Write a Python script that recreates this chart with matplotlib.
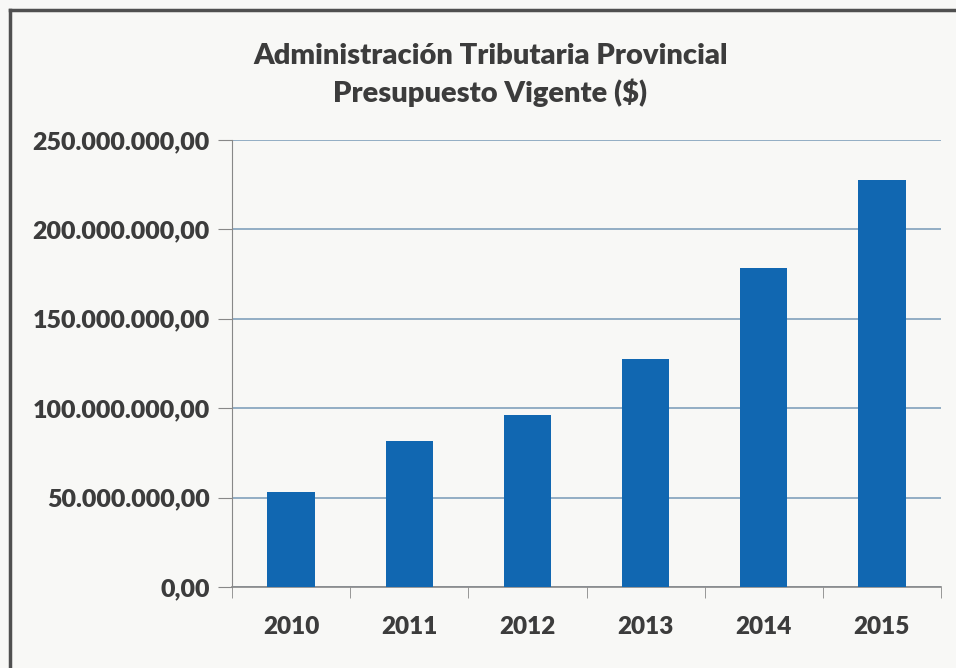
import matplotlib
matplotlib.use("Agg")
import matplotlib.pyplot as plt
from matplotlib.lines import Line2D
from matplotlib.ticker import FuncFormatter, FixedLocator

years = ["2010", "2011", "2012", "2013", "2014", "2015"]
budget = [53_000_000, 81_500_000, 96_000_000, 127_500_000, 178_500_000, 227_500_000]
y_ticks = [0, 50_000_000, 100_000_000, 150_000_000, 200_000_000, 250_000_000]

TEXT = "#3c3c3c"
BAR = "#1167b1"
GRID = "#93adc4"
BG = "#f8f8f6"

plt.rcParams["font.family"] = ["Lato", "DejaVu Sans"]


def es_format(v, pos=None):
    # 50.000.000,00 style
    s = f"{v:,.2f}"
    return s.replace(",", "X").replace(".", ",").replace("X", ".")


fig = plt.figure(figsize=(9.56, 6.68), dpi=100, facecolor=BG)
ax = fig.add_axes([0.2427, 0.1213, 0.7416, 0.6691], facecolor=BG)

x = range(len(years))
ax.bar(x, budget, width=0.4, color=BAR, zorder=3)

ax.set_xlim(-0.5, len(years) - 0.5)
ax.set_ylim(0, 250_000_000)
ax.yaxis.set_major_locator(FixedLocator(y_ticks))
ax.yaxis.set_major_formatter(FuncFormatter(es_format))
ax.grid(axis="y", color=GRID, linewidth=1.4, zorder=0)

ax.set_xticks(list(x))
ax.set_xticklabels(years)
ax.set_xticks([i - 0.5 for i in range(len(years) + 1)], minor=True)
ax.tick_params(axis="x", which="major", length=0, pad=21)
ax.tick_params(axis="x", which="minor", length=8, color="#888888", direction="out")
ax.tick_params(axis="y", length=10, color="#888888", direction="out", pad=6)

for lab in ax.get_xticklabels():
    lab.set_fontsize(17.5)
    lab.set_fontweight("heavy")
    lab.set_color(TEXT)
for lab in ax.get_yticklabels():
    lab.set_fontsize(18)
    lab.set_fontweight("heavy")
    lab.set_color(TEXT)

for side in ["top", "right"]:
    ax.spines[side].set_visible(False)
ax.spines["left"].set_color("#888888")
ax.spines["bottom"].set_color("#888888")
ax.spines["bottom"].set_linewidth(1.2)

fig.text(0.513, 0.916, "Administración Tributaria Provincial", ha="center", va="center",
         fontsize=21, fontweight="heavy", color=TEXT)
fig.text(0.513, 0.861, "Presupuesto Vigente ($)", ha="center", va="center",
         fontsize=21, fontweight="heavy", color=TEXT)

# chart frame (scanned crop: left and top edges visible)
fig.add_artist(Line2D([0.010, 0.010], [0.0, 0.985], color="#505050", linewidth=2.5))
fig.add_artist(Line2D([0.010, 1.0], [0.985, 0.985], color="#505050", linewidth=2.5))

fig.savefig("out.png", dpi=100, facecolor=BG)
